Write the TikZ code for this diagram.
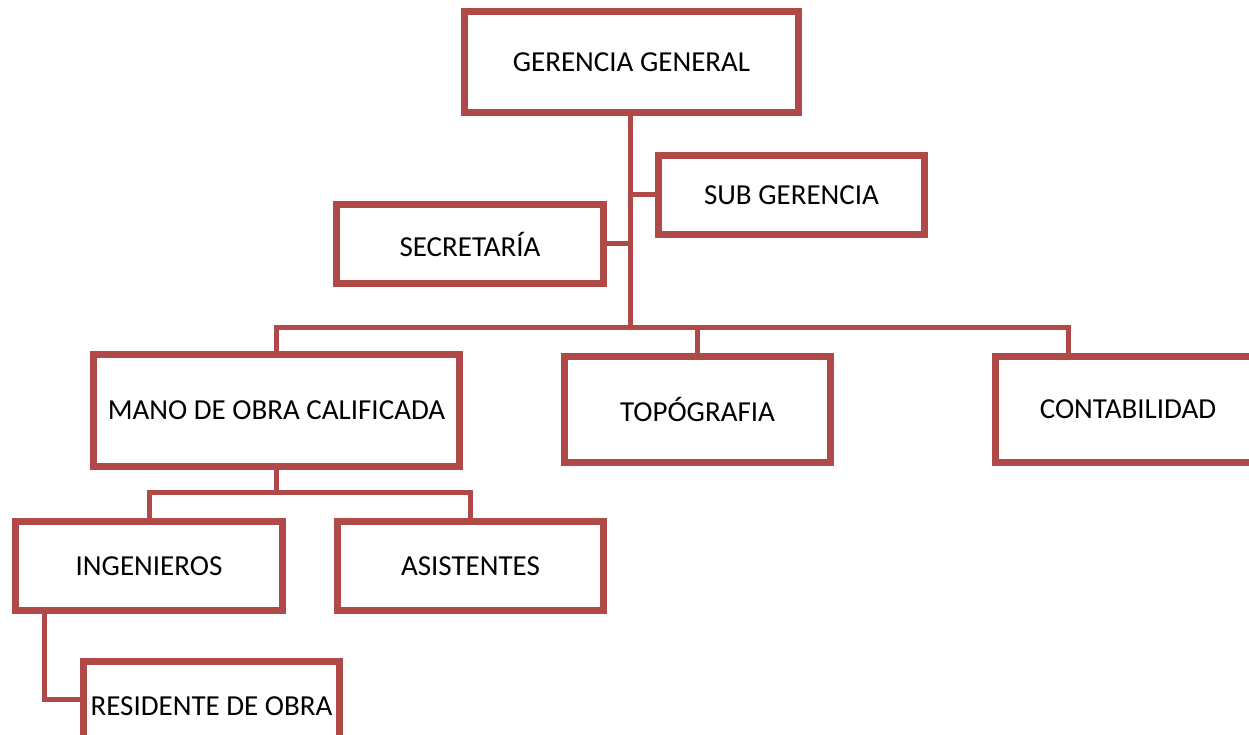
\documentclass[tikz,border=0pt]{standalone}
\usepackage{fontspec}
\setmainfont{Carlito}
\usetikzlibrary{shadows,backgrounds,calc}
\definecolor{boxred}{RGB}{176,74,72}
\begin{document}
\begin{tikzpicture}[x=1pt,y=-1pt,
  orgbox/.style={draw=boxred, line width=7pt, fill=white, rectangle, inner sep=0pt,
    font=\fontsize{29}{34}\selectfont,
    drop shadow={shadow xshift=2pt, shadow yshift=-3pt, opacity=0.25, fill=black}},
  link/.style={draw=boxred, line width=5pt}]
\useasboundingbox (0,0) rectangle (1249,735);
\node[orgbox, minimum width=334pt, minimum height=101pt] (gg) at (631.5,62) {GERENCIA GENERAL};
\node[orgbox, minimum width=266pt, minimum height=79pt] (sub) at (791.5,195) {SUB GERENCIA};
\node[orgbox, minimum width=267pt, minimum height=79pt] (sec) at (470,244) {SECRETARÍA};
\node[orgbox, minimum width=366pt, minimum height=112pt] (mano) at (276.5,410.5) {MANO DE OBRA CALIFICADA};
\node[orgbox, minimum width=266pt, minimum height=106pt] (top) at (697.5,409.5) {TOPÓGRAFIA};
\node[orgbox, minimum width=266pt, minimum height=106pt] (cont) at (1128,409.5) {CONTABILIDAD};
\node[orgbox, minimum width=267pt, minimum height=89pt] (ing) at (149,566) {INGENIEROS};
\node[orgbox, minimum width=266pt, minimum height=89pt] (asi) at (470.5,566) {ASISTENTES};
\node[orgbox, minimum width=256pt, minimum height=89pt] (res) at (211.5,706) {RESIDENTE DE OBRA};
\coordinate (bus) at (630,327);
\coordinate (contin) at (1068,360);
\coordinate (sub2) at (630,492);
\coordinate (ingl) at (44,600);
\coordinate (resin) at (90,699);
\begin{scope}[on background layer]
\draw[link] (gg.south -| bus) -- (bus);
\draw[link] (sub.west) -- (sub.west -| bus);
\draw[link] (sec.east) -- (sec.east -| bus);
\draw[link] (mano.north) |- (bus) -| (contin);
\draw[link] (top.north) -- (top.north |- bus);
\draw[link] (mano.south) -- (mano.south |- sub2);
\draw[link] (ing.north) |- (mano.south |- sub2) -| (asi.north);
\draw[link] (ingl) |- (resin);
\end{scope}
\end{tikzpicture}
\end{document}
